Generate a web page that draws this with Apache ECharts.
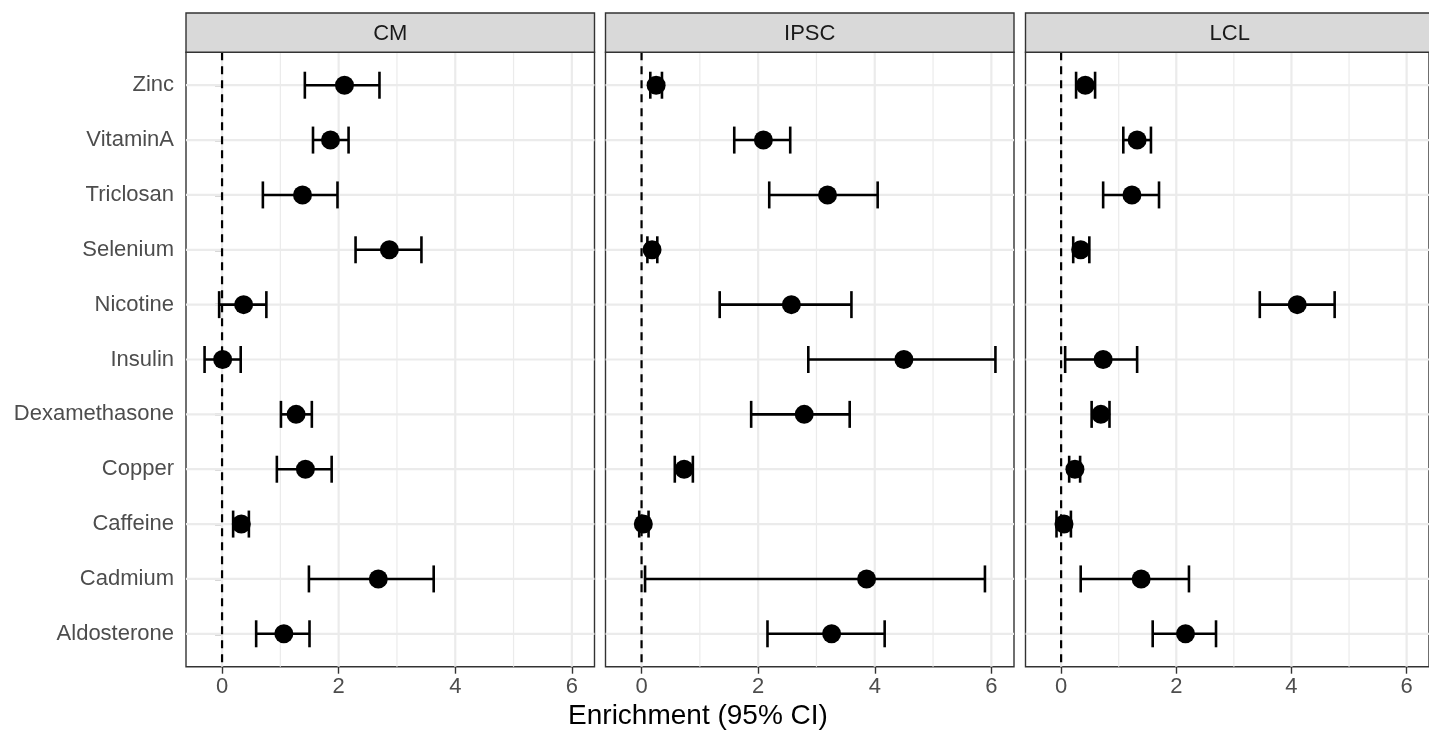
<!DOCTYPE html>
<html><head><meta charset="utf-8">
<script src="https://cdn.jsdelivr.net/npm/echarts@6/dist/echarts.min.js"></script>
<style>html,body{margin:0;padding:0;background:#fff}#c{width:1429px;height:732px}</style>
</head><body><div id="c"></div>
<script>
// ---- data (bottom to top) ----
const compounds = ['Aldosterone','Cadmium','Caffeine','Copper','Dexamethasone','Insulin','Nicotine','Selenium','Triclosan','VitaminA','Zinc'];
const panels = ['CM','IPSC','LCL'];

const cmEst  = [1.06, 2.68, 0.33, 1.43, 1.27, 0.01, 0.37, 2.87, 1.38, 1.86, 2.10];
const cmLow  = [0.585,1.49, 0.19, 0.94, 1.01,-0.30,-0.05, 2.29, 0.70, 1.56, 1.42];
const cmHigh = [1.50, 3.63, 0.46, 1.88, 1.54, 0.32, 0.76, 3.42, 1.98, 2.17, 2.70];

const ipscEst  = [3.26, 3.86, 0.03, 0.73, 2.79, 4.50, 2.57, 0.18, 3.19, 2.09, 0.25];
const ipscLow  = [2.16, 0.06,-0.04, 0.57, 1.88, 2.86, 1.34, 0.10, 2.19, 1.59, 0.15];
const ipscHigh = [4.17, 5.89, 0.12, 0.88, 3.57, 6.07, 3.60, 0.27, 4.05, 2.55, 0.35];

const lclEst  = [2.16, 1.39, 0.05, 0.24, 0.69, 0.73, 4.10, 0.34, 1.23, 1.32, 0.42];
const lclLow  = [1.59, 0.34,-0.08, 0.14, 0.53, 0.07, 3.45, 0.21, 0.73, 1.08, 0.26];
const lclHigh = [2.69, 2.22, 0.17, 0.33, 0.84, 1.32, 4.75, 0.49, 1.70, 1.56, 0.59];

const xTicks = [0, 2, 4, 6];
const xMinor = [1, 3, 5];
const refLine = [0];
const xTitle = 'Enrichment (95% CI)';

// ---- layout ----
const FONT = '"Liberation Sans", Arial, Helvetica, sans-serif';
const panelData = [
  {est: cmEst, low: cmLow, high: cmHigh},
  {est: ipscEst, low: ipscLow, high: ipscHigh},
  {est: lclEst, low: lclLow, high: lclHigh}
];
const panelLeft = [186, 605.5, 1025.5];
const panelW = 408.5;
const panelTop = 52.3;
const panelBottom = 666.7;
const stripTop = 13;
const xMin = -0.6185, xMax = 6.3885;
const yMin = 0.4, yMax = 11.6;
const catIdx = compounds.map((c, i) => i + 1);

const grids = [], xAxes = [], yAxes = [], series = [], graphics = [];

panelData.forEach((p, k) => {
  grids.push({
    left: panelLeft[k], top: panelTop, width: panelW, height: panelBottom - panelTop,
    show: true, borderColor: '#333333', borderWidth: 1.4, backgroundColor: 'transparent', containLabel: false
  });
  xAxes.push({
    type: 'value', gridIndex: k, min: xMin, max: xMax,
    axisLine: {show: false}, splitLine: {show: false},
    axisTick: {show: true, customValues: xTicks, length: 7, lineStyle: {color: '#333333', width: 1.4}},
    axisLabel: {show: true, customValues: xTicks, fontSize: 22, color: '#4d4d4d', fontFamily: FONT, margin: 9}
  });
  yAxes.push({
    type: 'value', gridIndex: k, min: yMin, max: yMax,
    axisLine: {show: false}, splitLine: {show: false},
    axisTick: k === 0 ? {show: true, customValues: catIdx, length: 7, lineStyle: {color: '#333333', width: 1.4}} : {show: false},
    axisLabel: k === 0 ? {show: true, customValues: catIdx, fontSize: 22, color: '#4d4d4d', fontFamily: FONT, margin: 12,
      formatter: v => compounds[Math.round(v) - 1] || ''} : {show: false}
  });

  // vertical grid lines (major / minor)
  const vline = (width) => (params, api) => {
    const cs = params.coordSys;
    const x = api.coord([api.value(0), 1])[0];
    return {type: 'line', shape: {x1: x, y1: cs.y, x2: x, y2: cs.y + cs.height},
      style: {stroke: '#ebebeb', lineWidth: width}, silent: true};
  };
  series.push({type: 'custom', xAxisIndex: k, yAxisIndex: k, z: 1, silent: true,
    data: xMinor.map(v => [v, 1]), encode: {x: 0, y: 1}, renderItem: vline(1.2)});
  series.push({type: 'custom', xAxisIndex: k, yAxisIndex: k, z: 1, silent: true,
    data: xTicks.map(v => [v, 1]), encode: {x: 0, y: 1}, renderItem: vline(2.2)});
  // horizontal grid lines
  series.push({type: 'custom', xAxisIndex: k, yAxisIndex: k, z: 1, silent: true,
    data: catIdx.map(v => [0, v]), encode: {x: 0, y: 1},
    renderItem: (params, api) => {
      const cs = params.coordSys;
      const y = api.coord([0, api.value(1)])[1];
      return {type: 'line', shape: {x1: cs.x, y1: y, x2: cs.x + cs.width, y2: y},
        style: {stroke: '#ebebeb', lineWidth: 2.2}, silent: true};
    }});
  // dashed reference line at 0
  series.push({type: 'custom', xAxisIndex: k, yAxisIndex: k, z: 2, silent: true,
    data: refLine.map(v => [v, 1]), encode: {x: 0, y: 1},
    renderItem: (params, api) => {
      const cs = params.coordSys;
      const x = api.coord([api.value(0), 1])[0];
      return {type: 'line', shape: {x1: x, y1: cs.y, x2: x, y2: cs.y + cs.height},
        style: {stroke: '#000', lineWidth: 2.2, lineDash: [8, 6]}, silent: true};
    }});
  // error bars
  series.push({type: 'custom', xAxisIndex: k, yAxisIndex: k, z: 3, silent: true,
    data: catIdx.map((c, i) => [c, p.low[i], p.high[i]]),
    encode: {x: [1, 2], y: 0},
    renderItem: (params, api) => {
      const y = api.value(0);
      const a = api.coord([api.value(1), y]);
      const b = api.coord([api.value(2), y]);
      const h = 13.5;
      const st = {stroke: '#000', lineWidth: 2.6};
      return {type: 'group', children: [
        {type: 'line', shape: {x1: a[0], y1: a[1], x2: b[0], y2: b[1]}, style: st},
        {type: 'line', shape: {x1: a[0], y1: a[1] - h, x2: a[0], y2: a[1] + h}, style: st},
        {type: 'line', shape: {x1: b[0], y1: b[1] - h, x2: b[0], y2: b[1] + h}, style: st}
      ]};
    }});
  // points
  series.push({type: 'scatter', xAxisIndex: k, yAxisIndex: k, z: 4, symbol: 'circle', symbolSize: 19,
    itemStyle: {color: '#000', opacity: 1}, silent: true,
    data: catIdx.map((c, i) => [p.est[i], c])});

  // strip
  graphics.push({type: 'rect', z: 10, shape: {x: panelLeft[k], y: stripTop, width: panelW, height: panelTop - stripTop},
    style: {fill: '#d9d9d9', stroke: '#333333', lineWidth: 1.4}});
  graphics.push({type: 'text', z: 11, x: panelLeft[k] + panelW / 2, y: (stripTop + panelTop) / 2 + 1,
    style: {text: panels[k], fill: '#1a1a1a', font: '22px ' + FONT, align: 'center', verticalAlign: 'middle',
      textAlign: 'center', textVerticalAlign: 'middle'}});
});

graphics.push({type: 'text', z: 11, x: 698, y: 716,
  style: {text: xTitle, fill: '#000', font: '28px ' + FONT, align: 'center', verticalAlign: 'middle',
    textAlign: 'center', textVerticalAlign: 'middle'}});

const chart = echarts.init(document.getElementById('c'), null, {renderer: 'canvas'});
chart.setOption({
  animation: false,
  backgroundColor: '#ffffff',
  textStyle: {fontFamily: FONT},
  grid: grids, xAxis: xAxes, yAxis: yAxes, series: series, graphic: graphics
});
</script></body></html>
